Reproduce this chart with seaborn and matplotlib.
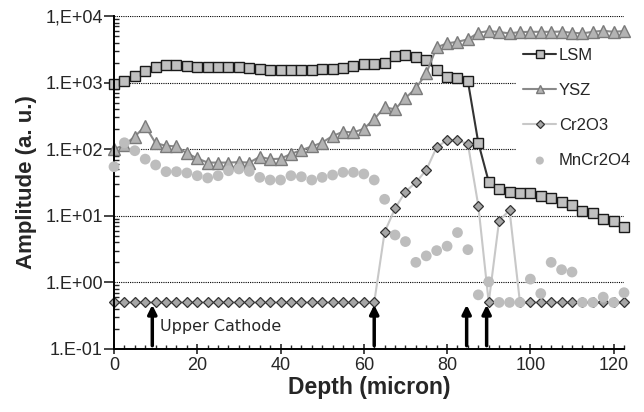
import numpy as np
import pandas as pd
import seaborn as sns
import matplotlib.pyplot as plt
from matplotlib.ticker import MultipleLocator, LogLocator, NullFormatter

# depth grid: one measurement every 2.5 micron
depth = [2.5 * i for i in range(50)]

lsm = [950, 1070, 1270, 1490, 1730, 1840, 1840, 1780, 1710, 1700,
       1700, 1700, 1700, 1650, 1600, 1560, 1560, 1560, 1560, 1560,
       1590, 1620, 1680, 1770, 1880, 1920, 1970, 2540, 2620, 2450,
       2160, 1530, 1230, 1190, 1050, 125, 32.5, 25, 22.8, 21.8,
       21.8, 20, 18.2, 16.4, 14.3, 11.9, 10.9, 8.9, 8.3, 6.8]

ysz = [100, 116, 155, 223, 123, 113, 110, 87, 73, 63,
       63, 63, 64, 63, 77, 71, 72, 85, 97, 110,
       126, 158, 183, 179, 203, 284, 425, 398, 588, 820,
       1380, 3390, 3890, 4110, 4470, 5620, 5960, 5750, 5500, 5750,
       5800, 5800, 5800, 5850, 5600, 5500, 5800, 6020, 5800, 5960]

cr2o3 = [0.5] * 26 + [5.7, 12.9, 23, 31.7, 48.7, 107, 137, 137, 120,
                      14.2, 0.5, 8.5, 12.1] + [0.5] * 11

mncr2o4 = [54.6, 125, 95, 71, 58, 46, 46, 44, 40, 37,
           40, 47.5, 50.5, 46.5, 37.8, 34.5, 34.5, 40, 38.6, 34.5,
           37.8, 41, 45, 45, 42.5, 34.5, 17.7, 5.15, 4.1, 2.0,
           2.5, 3.0, 3.5, 5.6, 3.1, 0.65, 1.02, 0.5, 0.5, 0.5,
           1.12, 0.68, 2.0, 1.55, 1.43, 0.5, 0.5, 0.6, 0.5, 0.7]

arrow_x = [9.2, 62.5, 84.7, 89.5]
ytick_vals = [0.1, 1, 10, 100, 1000, 10000]
ytick_labels = ["1.E-01", "1.E+00", "1.E+01", "1.E+02", "1.E+03", "1,E+04"]

df = pd.DataFrame({"Depth": depth, "LSM": lsm, "YSZ": ysz,
                   "Cr2O3": cr2o3, "MnCr2O4": mncr2o4})

sns.set_style("white")
plt.rcParams['font.family'] = ['Liberation Sans', 'DejaVu Sans']

fig = plt.figure(figsize=(6.44, 4.12), dpi=100)
ax = fig.add_axes([0.177, 0.153, 0.792, 0.808])

# dotted decade lines
for v in ytick_vals[1:]:
    ax.axhline(v, color='black', lw=0.8, ls=(0, (1, 1)), zorder=0)

sns.lineplot(data=df, x="Depth", y="LSM", ax=ax, sort=False, color='#333333', lw=1.5,
             marker='s', markersize=7.5, markerfacecolor='#c0c0c0',
             markeredgecolor='#1a1a1a', markeredgewidth=1.0, label='LSM', clip_on=False)
sns.lineplot(data=df, x="Depth", y="YSZ", ax=ax, sort=False, color='#8a8a8a', lw=1.5,
             marker='^', markersize=8, markerfacecolor='#b3b3b3',
             markeredgecolor='#7a7a7a', markeredgewidth=1.0, label='YSZ', clip_on=False)
sns.lineplot(data=df, x="Depth", y="Cr2O3", ax=ax, sort=False, color='#c8c8c8', lw=1.5,
             marker='D', markersize=5.5, markerfacecolor='#a6a6a6',
             markeredgecolor='#333333', markeredgewidth=0.9, label='Cr2O3', clip_on=False)
sns.scatterplot(data=df, x="Depth", y="MnCr2O4", ax=ax, color='#bdbdbd', s=60,
                edgecolor='none', label='MnCr2O4', clip_on=False, zorder=5)

ax.set_yscale('log')
ax.set_ylim(0.1, 10000)
ax.set_xlim(0, 122.5)
ax.set_yticks(ytick_vals, ytick_labels)
ax.yaxis.set_minor_locator(LogLocator(base=10, subs=np.arange(2, 10)))
ax.yaxis.set_minor_formatter(NullFormatter())
ax.xaxis.set_major_locator(MultipleLocator(20))
ax.xaxis.set_minor_locator(MultipleLocator(2.5))

for s in ['top', 'right']:
    ax.spines[s].set_visible(False)
for s in ['left', 'bottom']:
    ax.spines[s].set_color('black')
    ax.spines[s].set_linewidth(1.4)

ax.tick_params(axis='y', which='major', direction='out', length=7, width=1.2,
               labelsize=13, left=True, pad=1)
ax.tick_params(axis='y', which='minor', direction='in', length=3.5, width=1.0, left=True)
ax.tick_params(axis='x', which='major', direction='inout', length=7, width=1.2,
               labelsize=13, bottom=True, pad=2)
ax.tick_params(axis='x', which='minor', direction='in', length=3, width=1.0, bottom=True)

ax.set_xlabel("Depth (micron)", fontsize=16.5, fontweight='bold', labelpad=2)
ax.set_ylabel("Amplitude (a. u.)", fontsize=16, fontweight='bold', labelpad=6)

for xa in arrow_x:
    ax.annotate('', xy=(xa, 0.46), xytext=(xa, 0.112),
                arrowprops=dict(arrowstyle='-|>', lw=2.5, color='black',
                                mutation_scale=13, shrinkA=0, shrinkB=0))
ax.text(11.0, 0.215, "Upper Cathode", fontsize=11.5, family=['DejaVu Sans'],
        va='center', ha='left')

leg = ax.legend(loc='center left', bbox_to_anchor=(0.802, 0.738),
                bbox_transform=fig.transFigure, frameon=True, fontsize=12,
                handlelength=2.0, handletextpad=0.15, labelspacing=1.2,
                borderpad=0.4, borderaxespad=0, markerscale=0.75)
leg.get_frame().set_edgecolor('none')
leg.get_frame().set_facecolor('white')
leg.get_frame().set_alpha(1)
leg.set_zorder(10)

fig.savefig("out.png", dpi=100)
